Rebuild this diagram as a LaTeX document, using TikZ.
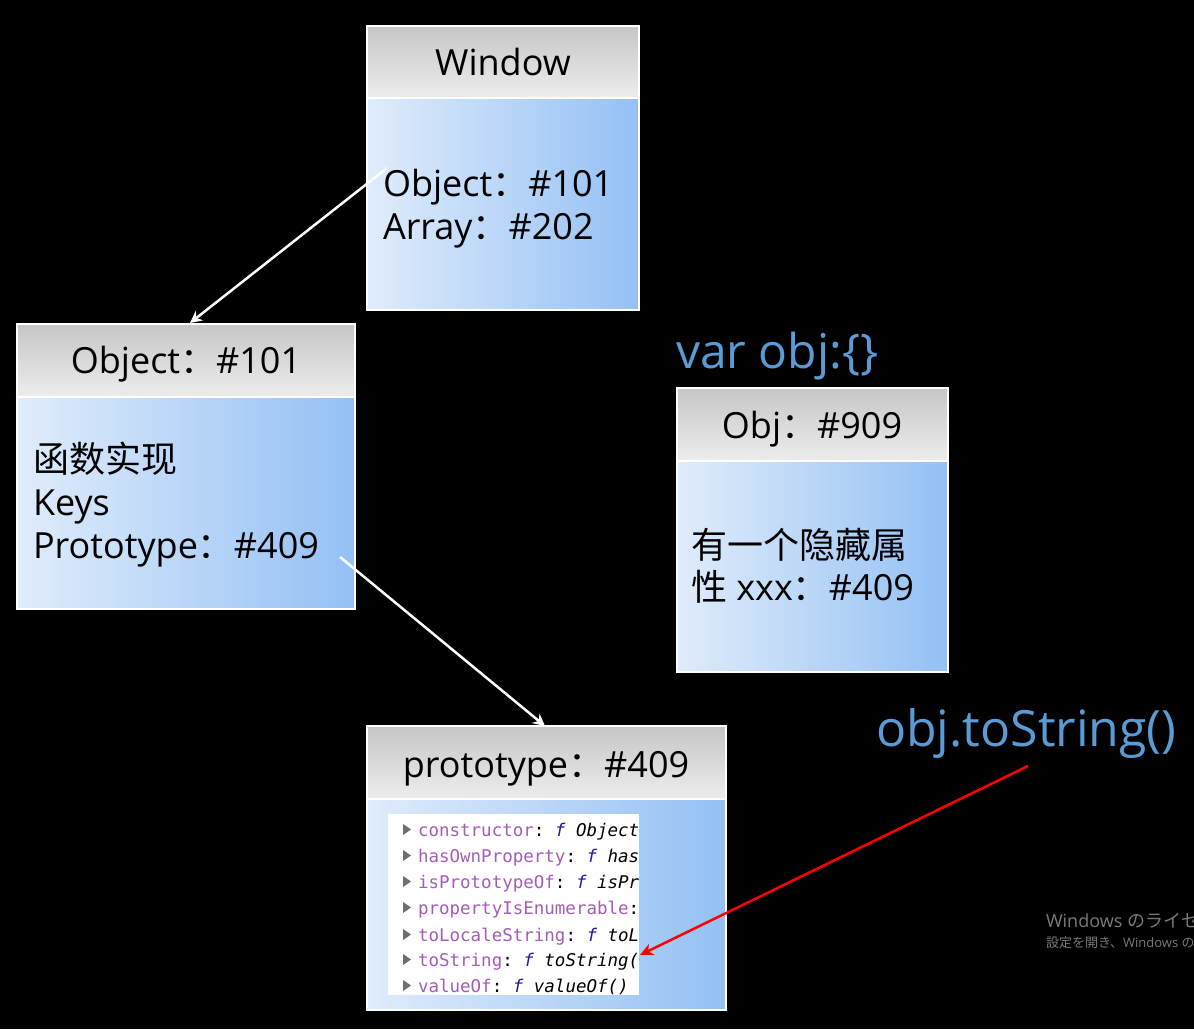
\documentclass[tikz,border=0pt]{standalone}
\usepackage{fontspec}
\setmainfont{Open Sans}
\newfontfamily\cjk{Noto Sans CJK SC}
\newfontfamily\jpfont{Noto Sans CJK JP}
\newfontfamily\monofont{DejaVu Sans Mono}
\usetikzlibrary{arrows.meta}
\definecolor{hdrtop}{HTML}{C6C6C6}
\definecolor{hdrbot}{HTML}{EDEDED}
\definecolor{bodyl}{HTML}{E0ECFB}
\definecolor{bodyr}{HTML}{94C0F4}
\definecolor{codeblue}{HTML}{5B9BD5}
\definecolor{keypurple}{HTML}{A45DB6}
\definecolor{fblue}{HTML}{1C1CA8}
\definecolor{tri}{HTML}{6E6E6E}
\definecolor{wmgray}{HTML}{7A7A7A}
\newcommand\fcolon{{\cjk ：}}
\tikzset{
  hdr/.style={draw=white, line width=2pt, top color=hdrtop, bottom color=hdrbot,
    inner sep=0pt, outer sep=0pt, anchor=north west},
  bodybox/.style={draw=white, line width=2pt, left color=bodyl, right color=bodyr,
    inner sep=0pt, outer sep=0pt, anchor=north west},
  txt/.style={inner sep=0pt, outer sep=0pt, text=black, font=\fontsize{36}{43}\selectfont},
  bluetxt/.style={inner sep=0pt, outer sep=0pt, text=codeblue, anchor=base west},
  code/.style={inner sep=0pt, outer sep=0pt, anchor=base west, font=\monofont\fontsize{17.5}{26}\selectfont},
  wm/.style={inner sep=0pt, outer sep=0pt, anchor=base west, text=wmgray},
  warrow/.style={draw=white, line width=2.5pt, -{Stealth[length=12pt,width=12pt]}},
  rarrow/.style={draw=red, line width=2.5pt, -{Stealth[length=13pt,width=12pt]}},
}
\newcommand\protorow[4]{%
  \fill[tri] (403,#1-12) -- (411,#1-6.5) -- (403,#1-1) -- cycle;
  \node[code] (#4) at (418,#1) {\textcolor{keypurple}{#2}:~\textcolor{fblue}{\itshape f}~{\itshape #3}};
}
\begin{document}
\begin{tikzpicture}[x=1pt,y=-1pt]
\useasboundingbox (0,0) rectangle (1194,1029);
\fill[black] (0,0) rectangle (1194,1029);

% ---------- Window box ----------
\node[hdr, minimum width=272pt, minimum height=72pt] (winH) at (367,26) {};
\node[bodybox, minimum width=272pt, minimum height=212pt] (winB) at (367,98) {};
\node[txt, anchor=base] (winT) at (503,75) {Window};
\node[txt, anchor=base west] (winL1) at (383,196) {Object\fcolon\#101};
\node[txt, anchor=base west] (winL2) at (383,239) {Array\fcolon\#202};

% ---------- Object box ----------
\node[hdr, minimum width=338pt, minimum height=73pt] (objH) at (17,324) {};
\node[bodybox, minimum width=338pt, minimum height=212pt] (objB) at (17,397) {};
\node[txt, anchor=base] (objT) at (186,373) {Object\fcolon\#101};
\node[txt, anchor=base west] (objL1) at (33,472) {\cjk 函数实现};
\node[txt, anchor=base west] (objL2) at (33,515) {Keys};
\node[txt, anchor=base west] (objL3) at (33,558) {Prototype\fcolon\#409};

% ---------- Obj box ----------
\node[bluetxt, font=\fontsize{48}{56}\selectfont] (varobj) at (676,368) {var obj:\{\}};
\node[hdr, minimum width=271pt, minimum height=73pt] (o9H) at (677,388) {};
\node[bodybox, minimum width=271pt, minimum height=211pt] (o9B) at (677,461) {};
\node[txt, anchor=base] (o9T) at (812,438) {Obj\fcolon\#909};
\node[txt, anchor=base west] (o9L1) at (691,558) {\cjk 有一个隐藏属};
\node[txt, anchor=base west] (o9L2) at (691,600) {{\cjk 性} xxx\fcolon\#409};

% ---------- prototype box ----------
\node[hdr, minimum width=359pt, minimum height=73pt] (prH) at (367,726) {};
\node[bodybox, minimum width=359pt, minimum height=211pt] (prB) at (367,799) {};
\node[txt, anchor=base] (prT) at (546,777) {prototype\fcolon\#409};
\node[fill=white, inner sep=0pt, outer sep=0pt, anchor=north west,
      minimum width=251pt, minimum height=181pt] (panel) at (388,814) {};
\begin{scope}
\clip (388,814) rectangle (639,995);
\protorow{836}{constructor}{Object()}{r1}
\protorow{862}{hasOwnProperty}{hasOwnProperty()}{r2}
\protorow{888}{isPrototypeOf}{isPrototypeOf()}{r3}
\protorow{914}{propertyIsEnumerable}{propertyIsEnumerable()}{r4}
\protorow{941}{toLocaleString}{toLocaleString()}{r5}
\protorow{966}{toString}{toString()}{r6}
\protorow{992}{valueOf}{valueOf()}{r7}
\end{scope}

% ---------- labels ----------
\node[bluetxt, font=\fontsize{50}{58}\selectfont] (tostr) at (876,746) {obj.toString()};
\node[wm, font=\fontsize{18}{22}\selectfont] (wm1) at (1046,927) {Windows {\jpfont のライセ}};
\node[wm, font=\fontsize{13}{16}\selectfont] (wm2) at (1046,947) {{\jpfont 設定を開き、}Windows {\jpfont の}};

% ---------- connectors ----------
\coordinate (a1s) at (387,168);
\coordinate (a1e) at (190,323);
\coordinate (a2s) at (340,557);
\coordinate (a2e) at (545,726);
\coordinate (a3s) at (1028,766);
\coordinate (a3e) at (640,955);
\draw[warrow] (a1s) -- (a1e);
\draw[warrow] (a2s) -- (a2e);
\draw[rarrow] (a3s) -- (a3e);
\end{tikzpicture}
\end{document}
